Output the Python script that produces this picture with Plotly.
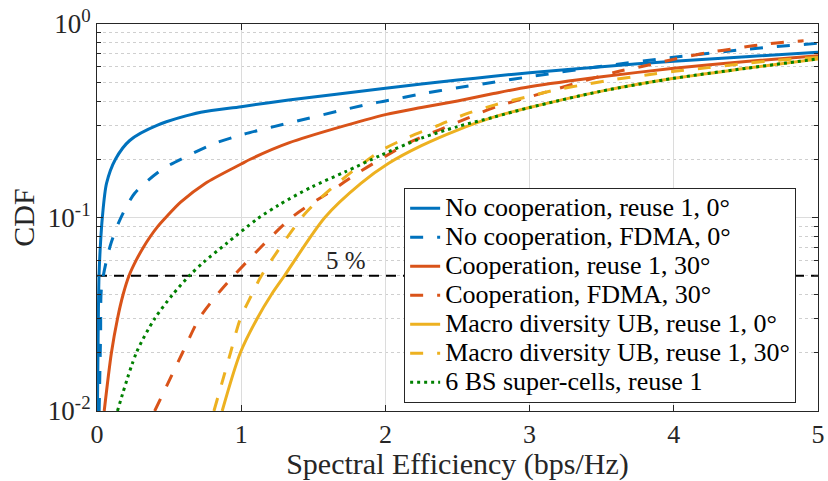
import math
import plotly.graph_objects as go

# ---- data ----
names = [
    "No cooperation, reuse 1, 0°",
    "No cooperation, FDMA, 0°",
    "Cooperation, reuse 1, 30°",
    "Cooperation, FDMA, 30°",
    "Macro diversity UB, reuse 1, 0°",
    "Macro diversity UB, reuse 1, 30°",
    "6 BS super-cells, reuse 1",
]

x_nc_r1 = [0.003, 0.008, 0.014, 0.025, 0.037, 0.066, 0.128, 0.227, 0.42, 0.72, 1.0, 1.33, 2.0, 2.25, 2.5, 2.75, 3.0, 3.5, 4.0, 4.5, 5.0]
y_nc_r1 = [0.01, 0.025, 0.05, 0.075, 0.1, 0.15, 0.2, 0.25, 0.3, 0.35, 0.374, 0.405, 0.465, 0.49, 0.513, 0.537, 0.56, 0.602, 0.642, 0.678, 0.714]

x_nc_fd = [0.015, 0.025, 0.032, 0.09, 0.158, 0.26, 0.445, 0.616, 0.82, 1.0, 1.13, 1.88, 2.0, 2.25, 2.5, 2.75, 3.0, 3.5, 4.0, 4.5, 5.0]
y_nc_fd = [0.01, 0.025, 0.044, 0.0707, 0.097, 0.133, 0.176, 0.206, 0.242, 0.267, 0.283, 0.385, 0.4, 0.435, 0.468, 0.5, 0.534, 0.605, 0.673, 0.74, 0.795]

x_c_r1 = [0.05, 0.1, 0.142, 0.181, 0.222, 0.271, 0.321, 0.371, 0.422, 0.477, 0.58, 0.75, 1.0, 1.063, 1.33, 2.0, 2.25, 2.5, 2.75, 3.0, 3.5, 4.0, 4.5, 5.0]
y_c_r1 = [0.01, 0.02, 0.03, 0.04, 0.05, 0.06, 0.07, 0.08, 0.09, 0.1, 0.12, 0.15, 0.189, 0.2, 0.243, 0.34, 0.37, 0.40, 0.437, 0.474, 0.534, 0.59, 0.64, 0.686]

x_c_fd = [0.4, 0.593, 0.708, 0.834, 0.948, 1.35, 1.63, 1.81, 1.99, 2.17, 2.37, 2.57, 2.77, 3.0, 3.6, 3.81, 4.01, 4.23, 4.44, 4.65, 4.9]
y_c_fd = [0.01, 0.02, 0.03, 0.04, 0.05, 0.1, 0.138, 0.17, 0.205, 0.245, 0.283, 0.326, 0.374, 0.42, 0.565, 0.61, 0.66, 0.71, 0.75, 0.79, 0.82]

x_md_0 = [0.868, 0.994, 1.11, 1.21, 1.30, 1.58, 1.83, 2.02, 2.25, 2.5, 2.75, 3.0, 3.5, 4.0, 4.5, 5.0]
y_md_0 = [0.01, 0.02, 0.03, 0.04, 0.05, 0.1, 0.15, 0.19, 0.235, 0.283, 0.33, 0.37, 0.45, 0.524, 0.59, 0.66]

x_md_30 = [0.811, 0.926, 0.994, 1.074, 1.14, 1.42, 1.52, 1.62, 1.80, 1.98, 2.16, 2.36, 2.56, 2.76, 2.97, 3.18, 3.39, 3.6, 3.81, 4.02, 4.24, 4.45, 4.66, 4.88, 5.0]
y_md_30 = [0.01, 0.02, 0.03, 0.04, 0.05, 0.1, 0.12, 0.14, 0.18, 0.224, 0.26, 0.298, 0.343, 0.382, 0.418, 0.456, 0.488, 0.518, 0.545, 0.572, 0.595, 0.62, 0.644, 0.662, 0.672]

x_sc = [0.142, 0.273, 0.4, 0.525, 0.64, 0.742, 0.9, 1.109, 1.26, 1.49, 1.72, 1.97, 2.25, 2.5, 2.75, 3.0, 3.5, 4.0, 4.5, 5.0]
y_sc = [0.01, 0.02, 0.03, 0.04, 0.05, 0.059, 0.0736, 0.098, 0.116, 0.144, 0.172, 0.21, 0.257, 0.295, 0.33, 0.37, 0.45, 0.524, 0.59, 0.66]

ref_x = [0, 5]
ref_y = [0.05, 0.05]
ref_label = "5 %"
ref_label_x = 1.73

xs = [x_nc_r1, x_nc_fd, x_c_r1, x_c_fd, x_md_0, x_md_30, x_sc]
ys = [y_nc_r1, y_nc_fd, y_c_r1, y_c_fd, y_md_0, y_md_30, y_sc]
colors = ["#0072BD", "#0072BD", "#D95319", "#D95319", "#EDB120", "#EDB120", "#008000"]
dashes = ["solid", "13px,14px", "solid", "13px,14px", "solid", "13px,14px", "3px,4px"]

FONT = "Liberation Serif"
axis_col = "#262626"

fig = go.Figure()

fig.add_trace(go.Scatter(x=ref_x, y=ref_y, mode="lines",
                         line=dict(color="black", width=2.2, dash="10px,7px"),
                         showlegend=False, hoverinfo="skip"))

for n, x, y, c, d in zip(names, xs, ys, colors, dashes):
    fig.add_trace(go.Scatter(x=x, y=y, mode="lines",
                             name='<span style="font-size:26px">' + n + '</span>',
                             line=dict(color=c, width=3, dash=d, shape="spline", smoothing=0.8)))

fig.add_annotation(x=ref_label_x, y=math.log10(ref_y[0]), xref="x", yref="y",
                   text=ref_label, showarrow=False, yanchor="bottom", yshift=0,
                   font=dict(family=FONT, size=25, color="#262626"))

fig.update_layout(
    width=828, height=481,
    margin=dict(l=97, r=3, t=24, b=70),
    paper_bgcolor="white", plot_bgcolor="white",
    font=dict(family=FONT, size=20, color=axis_col),
    legend=dict(x=0.426, y=0.577, xanchor="left", yanchor="top",
                bgcolor="white", bordercolor="#262626", borderwidth=1,
                font=dict(family=FONT, size=20, color="black"),
                tracegroupgap=0, itemwidth=30),
    xaxis=dict(range=[0, 5], tickvals=[0, 1, 2, 3, 4, 5],
               showgrid=True, gridcolor="#dcdcdc", gridwidth=1,
               showline=True, linecolor=axis_col, linewidth=1, mirror="allticks",
               ticks="inside", ticklen=6, tickcolor=axis_col,
               ticklabeloverflow="allow",
               tickfont=dict(family=FONT, size=26, color=axis_col),
               title=dict(text="Spectral Efficiency (bps/Hz)", standoff=4,
                          font=dict(family=FONT, size=30, color=axis_col)),
               zeroline=False),
    yaxis=dict(type="log", range=[-2, 0],
               tickvals=[0.01, 0.1, 1],
               ticktext=["10<sup>-2</sup>", "10<sup>-1</sup>", "10<sup>0</sup>"],
               showgrid=True, gridcolor="#dcdcdc", gridwidth=1,
               showline=True, linecolor=axis_col, linewidth=1, mirror="allticks",
               ticks="inside", ticklen=6, tickcolor=axis_col,
               ticklabeloverflow="allow",
               tickfont=dict(family=FONT, size=27, color=axis_col),
               minor=dict(dtick="D1", ticks="inside", ticklen=4, tickcolor=axis_col,
                          showgrid=True, gridcolor="#cfcfcf", griddash="dot", gridwidth=1),
               title=dict(text="CDF", standoff=4,
                          font=dict(family=FONT, size=30, color=axis_col)),
               zeroline=False),
)

fig.write_html("out.html")
